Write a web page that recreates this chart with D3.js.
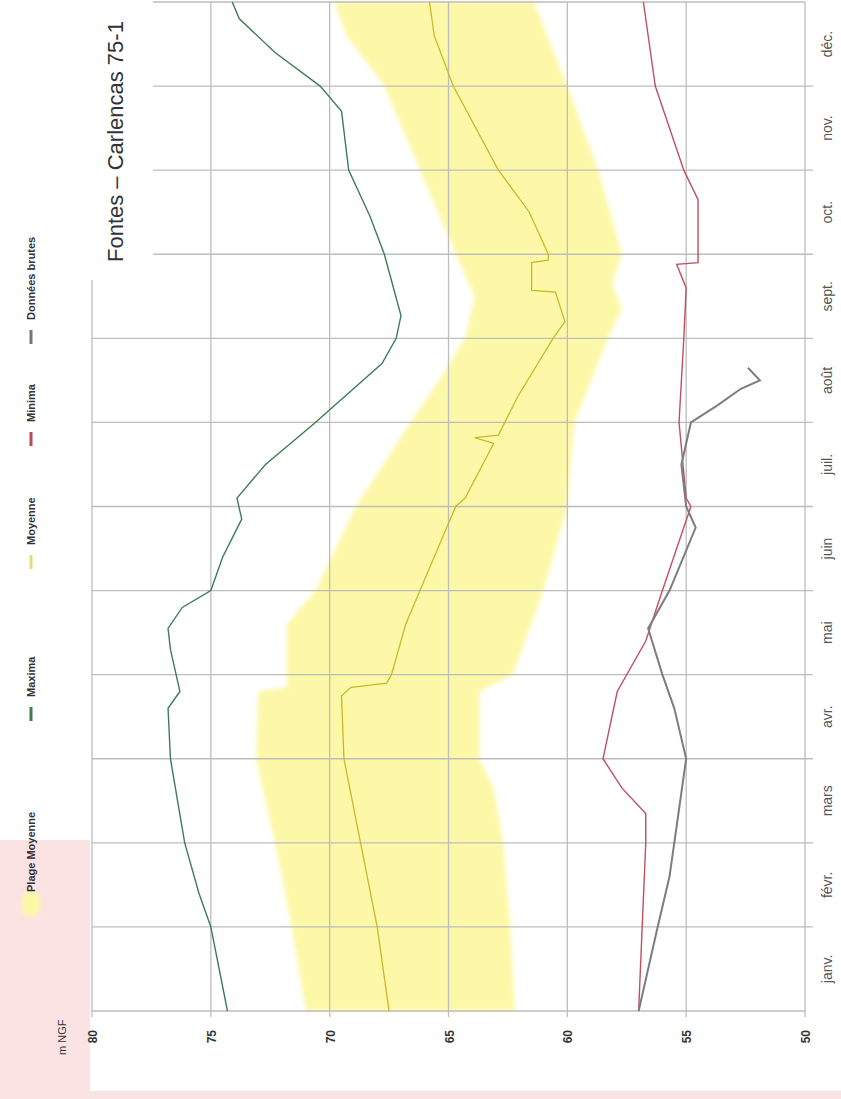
<!DOCTYPE html>
<html>
<head>
<meta charset="utf-8">
<script src="https://cdn.jsdelivr.net/npm/d3@7"></script>
<style>
  body { margin: 0; background: #fff; }
  text { font-family: "Liberation Sans", Arial, sans-serif; }
</style>
</head>
<body>
<svg id="chart" width="841" height="1099"></svg>
<script>
// month index m (0 = 1 janv., 12 = 31 déc.), value v in m NGF
var months = ['janv.', 'févr.', 'mars', 'avr.', 'mai', 'juin', 'juil.', 'août', 'sept.', 'oct.', 'nov.', 'déc.'];
var valueTicks = [50, 55, 60, 65, 70, 75, 80];

var maxima = [
	[0, 74.3], [1, 75.0], [1.4, 75.5], [2, 76.1], [3, 76.7], [3.6, 76.8], [3.8, 76.3],
	[4.3, 76.7], [4.55, 76.8], [4.8, 76.2], [5, 75.0], [5.4, 74.5], [5.85, 73.7], [6.1, 73.9],
	[6.5, 72.7], [7, 70.6], [7.1, 70.2], [7.7, 67.8], [8, 67.2], [8.27, 67.0], [9, 67.7],
	[9.45, 68.3], [10, 69.2], [10.7, 69.5], [11, 70.4], [11.4, 72.3], [11.8, 73.8], [12, 74.1]
];
var moyenne = [
	[0, 67.5], [1, 68.0], [2, 68.7], [3, 69.4], [3.75, 69.5], [3.85, 69.1], [3.9, 67.6],
	[4, 67.4], [4.6, 66.8], [5, 66.2], [6, 64.7], [6.1, 64.3], [6.75, 63.1], [6.82, 63.9],
	[6.85, 62.9], [7.3, 62.1], [8, 60.6], [8.2, 60.1], [8.55, 60.5], [8.57, 61.5], [8.9, 61.5],
	[8.93, 60.8], [9, 60.8], [9.5, 61.6], [10, 62.9], [11, 64.8], [11.6, 65.6], [12, 65.8]
];
var plageHaut = [
	[0, 71.0], [1, 71.6], [2, 72.3], [3, 73.1], [3.8, 73.0], [3.85, 71.8], [4.6, 71.8],
	[5, 70.6], [6, 68.9], [7, 66.6], [7.5, 65.4], [8, 64.3], [8.5, 63.9], [9, 64.7],
	[10, 66.2], [11, 67.7], [11.6, 69.3], [12, 69.8]
];
var plageBas = [
	[0, 62.2], [1, 62.4], [2, 62.7], [2.65, 63.1], [3, 63.7], [3.8, 63.7], [4, 62.3],
	[5, 61.0], [6, 60.0], [7, 59.7], [8, 58.3], [8.35, 57.7], [8.65, 58.1], [9, 57.7],
	[10, 58.7], [11, 60.0], [12, 61.4]
];
var minima = [
	[0, 57.0], [2, 56.7], [2.35, 56.7], [2.65, 57.7], [3, 58.5], [3.8, 57.9], [4.4, 56.7],
	[5, 56.0], [6, 54.8], [6.1, 55.0], [7, 55.3], [8, 55.1], [8.6, 55.0], [8.88, 55.4],
	[8.9, 54.5], [9.65, 54.5], [10, 55.1], [11, 56.3], [12, 56.8]
];
var brutes = [
	[0, 57.0], [1, 56.2], [1.6, 55.7], [2, 55.5], [3, 55.0], [3.6, 55.5], [4, 56.0],
	[4.55, 56.6], [5, 55.7], [5.75, 54.6], [6, 55.0], [6.5, 55.2], [7, 54.8], [7.2, 53.7],
	[7.4, 52.7], [7.5, 51.9], [7.65, 52.4]
];
var legendItems = [
	{ label: 'Plage Moyenne', y: 900, kind: 'band', color: '#fdf8a8' },
	{ label: 'Maxima', y: 705, kind: 'line', color: '#3f7c55' },
	{ label: 'Moyenne', y: 553, kind: 'line', color: '#e6da7a' },
	{ label: 'Minima', y: 430, kind: 'line', color: '#b84a5a' },
	{ label: 'Données brutes', y: 328, kind: 'line', color: '#777' }
];

var svg = d3.select('#chart');

// chart is drawn rotated: values run right->left, months bottom->top
var x = d3.scaleLinear().domain([50, 80]).range([805, 92]);
var y = d3.scaleLinear().domain([0, 12]).range([1011, 2]);

var defs = svg.append('defs');
defs.append('filter').attr('id', 'soft').append('feGaussianBlur').attr('stdDeviation', 2);

// pink backdrop at lower left
svg.append('rect').attr('x', 0).attr('y', 840).attr('width', 90).attr('height', 259).attr('fill', '#fce3e3');
svg.append('rect').attr('x', 0).attr('y', 1091).attr('width', 841).attr('height', 8).attr('fill', '#fce3e3');

// lower edge of the band at a given month
var bis = d3.bisector(function(p) { return p[0]; }).left;
function lowAt(m) {
	var i = bis(plageBas, m);
	var a = plageBas[Math.max(0, i - 1)], b = plageBas[Math.min(plageBas.length - 1, i)];
	var t = b[0] === a[0] ? 0 : (m - a[0]) / (b[0] - a[0]);
	return a[1] + (b[1] - a[1]) * t;
}
var bandPts = d3.merge([plageHaut.map(function(d) { return d[0]; }), plageBas.map(function(d) { return d[0]; })])
	.sort(d3.ascending);
function highAt(m) {
	var i = bis(plageHaut, m);
	var a = plageHaut[Math.max(0, i - 1)], b = plageHaut[Math.min(plageHaut.length - 1, i)];
	var t = b[0] === a[0] ? 0 : (m - a[0]) / (b[0] - a[0]);
	return a[1] + (b[1] - a[1]) * t;
}

svg.append('path')
	.datum(bandPts)
	.attr('fill', '#fdf8a8')
	.attr('filter', 'url(#soft)')
	.attr('d', d3.area()
		.y(function(m) { return y(m); })
		.x0(function(m) { return x(highAt(m)); })
		.x1(function(m) { return x(lowAt(m)); }));

// grid
var grid = svg.append('g').attr('stroke', '#bdbdbd').attr('stroke-width', 1.3);
valueTicks.forEach(function(v) {
	grid.append('line')
		.attr('x1', x(v)).attr('x2', x(v))
		.attr('y1', v >= 80 ? 280 : y(12)).attr('y2', y(0) + 6);
});
d3.range(0, 13).forEach(function(m) {
	var yy = y(m);
	grid.append('line')
		.attr('x1', yy < 280 ? 153 : x(80)).attr('x2', x(50) + (m > 0 && m < 12 ? 8 : 0))
		.attr('y1', yy).attr('y2', yy);
});

var line = d3.line()
	.x(function(d) { return x(d[1]); })
	.y(function(d) { return y(d[0]); });

[[moyenne, '#cdb728', 1.3], [maxima, '#3f7c55', 1.4], [minima, '#c0505f', 1.4], [brutes, '#7d7d7d', 2]]
	.forEach(function(s) {
		svg.append('path').datum(s[0]).attr('fill', 'none')
			.attr('stroke', s[1]).attr('stroke-width', s[2]).attr('d', line);
	});

// month labels
months.forEach(function(mth, i) {
	svg.append('text')
		.attr('transform', 'translate(832,' + y(i + 0.5) + ') rotate(-90)')
		.attr('text-anchor', 'middle').attr('font-size', 14).attr('fill', '#555')
		.text(mth);
});

// value labels
valueTicks.forEach(function(v) {
	svg.append('text')
		.attr('transform', 'translate(' + (x(v) + 5) + ',1030) rotate(-90)')
		.attr('text-anchor', 'end').attr('font-size', 12).attr('font-weight', 'bold').attr('fill', '#333')
		.text(v);
});
svg.append('text')
	.attr('transform', 'translate(66,1055) rotate(-90)')
	.attr('font-size', 11).attr('fill', '#333')
	.text('m NGF');

// title
svg.append('text')
	.attr('transform', 'translate(123,262) rotate(-90)')
	.attr('font-family', '"Open Sans", sans-serif')
	.attr('font-size', 22).attr('fill', '#333')
	.text('Fontes – Carlencas 75-1');

// legend
legendItems.forEach(function(d) {
	var g = svg.append('g');
	if (d.kind === 'band') {
		g.append('ellipse').attr('cx', 31).attr('cy', d.y + 4).attr('rx', 10).attr('ry', 13)
			.attr('fill', d.color).attr('filter', 'url(#soft)');
	} else {
		g.append('line').attr('x1', 31).attr('x2', 31).attr('y1', d.y + 2).attr('y2', d.y + 16)
			.attr('stroke', d.color).attr('stroke-width', 3);
	}
	g.append('text')
		.attr('transform', 'translate(35,' + (d.y - 8) + ') rotate(-90)')
		.attr('font-size', 11).attr('font-weight', 'bold').attr('fill', '#333')
		.text(d.label);
});
</script>
</body>
</html>
